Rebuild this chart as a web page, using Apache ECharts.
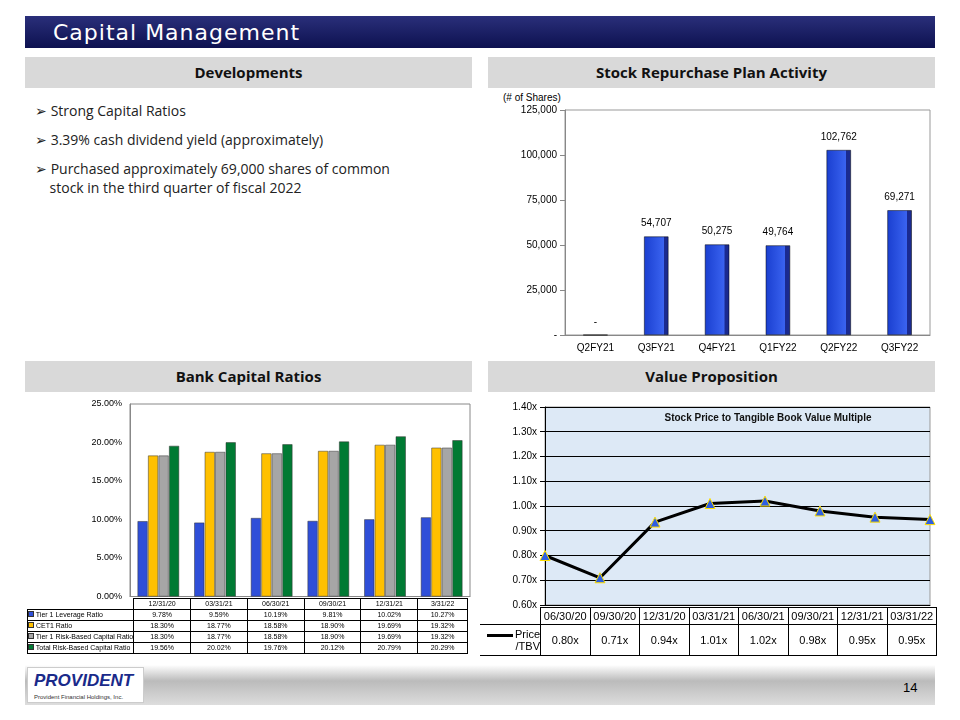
<!DOCTYPE html>
<html><head><meta charset="utf-8">
<script src="https://cdn.jsdelivr.net/npm/echarts@6/dist/echarts.min.js"></script>
<style>
body{margin:0;width:960px;height:720px;background:#fff;font-family:Verdana,"DejaVu Sans",sans-serif;position:relative;overflow:hidden}
.abs{position:absolute}
.title{left:25px;top:16px;width:910px;height:32px;background:linear-gradient(#2a2f7a,#0d1150);color:#fff;font-size:22px;line-height:34px;padding-left:28px;box-sizing:border-box;letter-spacing:1px}
.hdr{height:31px;background:#d9d9d9;font-weight:bold;font-size:15px;text-align:center;line-height:31px;color:#111;font-family:"Open Sans",sans-serif}
.bul{left:35px;font-size:14px;color:#222;font-family:"Open Sans",sans-serif}
table{border-collapse:collapse;font-size:7px;font-family:Arial,sans-serif}
td{border:1px solid #000;text-align:center;padding:0;height:10px;line-height:10px}
.vt td{font-size:11px;height:16px;line-height:14px}
.foot{left:25px;top:665px;width:910px;height:40px;background:linear-gradient(#fff,#bbb 40%,#ddd)}
</style></head><body>
<div class="abs title">Capital Management</div>
<div class="abs hdr" style="left:25px;top:57px;width:447px">Developments</div>
<div class="abs hdr" style="left:488px;top:57px;width:447px">Stock Repurchase Plan Activity</div>
<div class="abs hdr" style="left:25px;top:361px;width:447px">Bank Capital Ratios</div>
<div class="abs hdr" style="left:488px;top:361px;width:447px">Value Proposition</div>
<div class="abs bul" style="top:101px">&#x27A2; Strong Capital Ratios</div>
<div class="abs bul" style="top:130px">&#x27A2; 3.39% cash dividend yield (approximately)</div>
<div class="abs bul" style="top:159px;width:400px">&#x27A2; Purchased approximately 69,000 shares of common<br>&nbsp;&nbsp;&nbsp;&nbsp;stock in the third quarter of fiscal 2022</div>
<div class="abs" style="left:503px;top:92px;font-size:10px;font-family:Arial">(# of Shares)</div>
<div id="rep" class="abs" style="left:488px;top:100px;width:450px;height:260px"></div>
<div id="bank" class="abs" style="left:25px;top:396px;width:450px;height:205px"></div>
<div id="btab" class="abs" style="left:27px;top:598px"></div>
<div id="val" class="abs" style="left:485px;top:398px;width:455px;height:212px"></div>
<div id="vtab" class="abs" style="left:480px;top:607px"></div>
<div class="abs foot"></div>
<div class="abs" style="left:27px;top:667px;width:117px;height:36px;background:#fff;border:1px solid #ccc;font:bold italic 17px Arial;color:#1a2a8a;line-height:26px;padding-left:6px;box-sizing:border-box">PROVIDENT<div style="font:6px Arial;color:#333;line-height:6px">Provident Financial Holdings, Inc.</div></div>
<div class="abs" style="left:903px;top:680px;font-size:13px;font-family:Arial">14</div>
<script>
var repCats=['Q2FY21','Q3FY21','Q4FY21','Q1FY22','Q2FY22','Q3FY22'];
var repVals=[0,54707,50275,49764,102762,69271];
var bankDates=['12/31/20','03/31/21','06/30/21','09/30/21','12/31/21','3/31/22'];
var bankNames=['Tier 1 Leverage Ratio','CET1 Ratio','Tier 1 Risk-Based Capital Ratio','Total Risk-Based Capital Ratio'];
var tier1Lev=[9.78,9.59,10.19,9.81,10.02,10.27];
var cet1=[18.30,18.77,18.58,18.90,19.69,19.32];
var tier1RB=[18.30,18.77,18.58,18.90,19.69,19.32];
var totalRB=[19.56,20.02,19.76,20.12,20.79,20.29];
var bankColors=['#2f4fd8','#ffc000','#a6a6a6','#007a33'];
var valDates=['06/30/20','09/30/20','12/31/20','03/31/21','06/30/21','09/30/21','12/31/21','03/31/22'];
var ptbv=[0.80,0.71,0.935,1.01,1.02,0.98,0.955,0.945];
var ptbvLabels=['0.80x','0.71x','0.94x','1.01x','1.02x','0.98x','0.95x','0.95x'];

var fmt=function(v){return v.toLocaleString('en-US');};
var rep=echarts.init(document.getElementById('rep'));
rep.setOption({
  grid:{left:77,right:8,top:10,bottom:25,show:true,borderColor:'#999',backgroundColor:'#fff'},
  xAxis:{type:'category',data:repCats,axisTick:{show:false},axisLine:{lineStyle:{color:'#888'}},axisLabel:{color:'#000',fontSize:10,fontFamily:'Arial'}},
  yAxis:{type:'value',min:0,max:125000,interval:25000,splitLine:{show:false},axisLine:{show:true,lineStyle:{color:'#888'}},axisTick:{show:true},
    axisLabel:{color:'#000',fontSize:10,fontFamily:'Arial',formatter:function(v){return v===0?'-':fmt(v);}}},
  series:[{type:'bar',data:repVals,barWidth:'40%',itemStyle:{color:{type:'linear',x:0,y:0,x2:1,y2:0,colorStops:[{offset:0,color:'#1a3fd0'},{offset:0.8,color:'#3a63f0'},{offset:0.81,color:'#1a2a90'},{offset:1,color:'#1a2a90'}]},borderColor:'#000',borderWidth:0.5},
    label:{show:true,position:'top',distance:8,color:'#000',fontSize:10,fontFamily:'Arial',formatter:function(p){return p.value===0?'-':fmt(p.value);}}}]
});

var bank=echarts.init(document.getElementById('bank'));
var bankData=[tier1Lev,cet1,tier1RB,totalRB];
bank.setOption({
  grid:{left:105,right:5,top:8,bottom:4,show:true,borderColor:'#888'},
  xAxis:{type:'category',data:bankDates,axisLabel:{show:false},axisTick:{show:false},axisLine:{lineStyle:{color:'#888'}}},
  yAxis:{type:'value',min:0,max:25,interval:5,splitLine:{show:false},axisLine:{show:true,lineStyle:{color:'#888'}},
    axisLabel:{color:'#000',fontSize:9,fontFamily:'Arial',formatter:function(v){return v.toFixed(2)+'%';}}},
  series:bankData.map(function(d,i){return {type:'bar',name:bankNames[i],data:d,barWidth:10,barGap:'5%',itemStyle:{color:bankColors[i],borderColor:'#333',borderWidth:0.5}};})
});
var h='<table style="width:441px"><tr><td style="border:none;width:102px"></td>';
bankDates.forEach(function(d){h+='<td>'+d+'</td>';});h+='</tr>';
bankData.forEach(function(d,i){h+='<tr><td style="text-align:left;white-space:nowrap"><span style="display:inline-block;width:4px;height:4px;background:'+bankColors[i]+';border:1px solid #333"></span> '+bankNames[i]+'</td>';
  d.forEach(function(v){h+='<td>'+v.toFixed(2)+'%</td>';});h+='</tr>';});
document.getElementById('btab').innerHTML=h+'</table>';

var val=echarts.init(document.getElementById('val'));
val.setOption({
  title:{text:'Stock Price to Tangible Book Value Multiple',left:278,textAlign:'center',top:10,textStyle:{fontSize:10,fontWeight:'bold',fontFamily:'Arial',color:'#111'}},
  grid:{left:60,right:10,top:9,bottom:3,show:true,borderColor:'#999',backgroundColor:'#dde9f6'},
  xAxis:{type:'category',data:valDates,boundaryGap:false,axisLabel:{show:false},axisTick:{show:false},axisLine:{lineStyle:{color:'#000'}}},
  yAxis:{type:'value',min:0.6,max:1.4,interval:0.1,splitLine:{lineStyle:{color:'#000'}},axisLine:{show:true,lineStyle:{color:'#000'}},axisTick:{show:true},
    axisLabel:{color:'#000',fontSize:10,fontFamily:'Arial',formatter:function(v){return v.toFixed(2)+'x';}}},
  series:[{type:'line',data:ptbv,symbol:'triangle',symbolSize:10,lineStyle:{color:'#000',width:3},itemStyle:{color:'#2f5fe0',borderColor:'#ffe000',borderWidth:1}}]
});
var v='<table class="vt" style="width:457px"><tr><td style="border:none;width:60px"></td>';
valDates.forEach(function(d){v+='<td>'+d+'</td>';});v+='</tr><tr><td style="text-align:right;height:30px;line-height:12px;border-left:none">'+
 '<span style="display:inline-block;width:26px;height:3px;background:#000;vertical-align:middle;margin-right:2px"></span>Price<br>/TBV</td>';
ptbvLabels.forEach(function(l){v+='<td>'+l+'</td>';});
document.getElementById('vtab').innerHTML=v+'</tr></table>';
</script>
</body></html>
